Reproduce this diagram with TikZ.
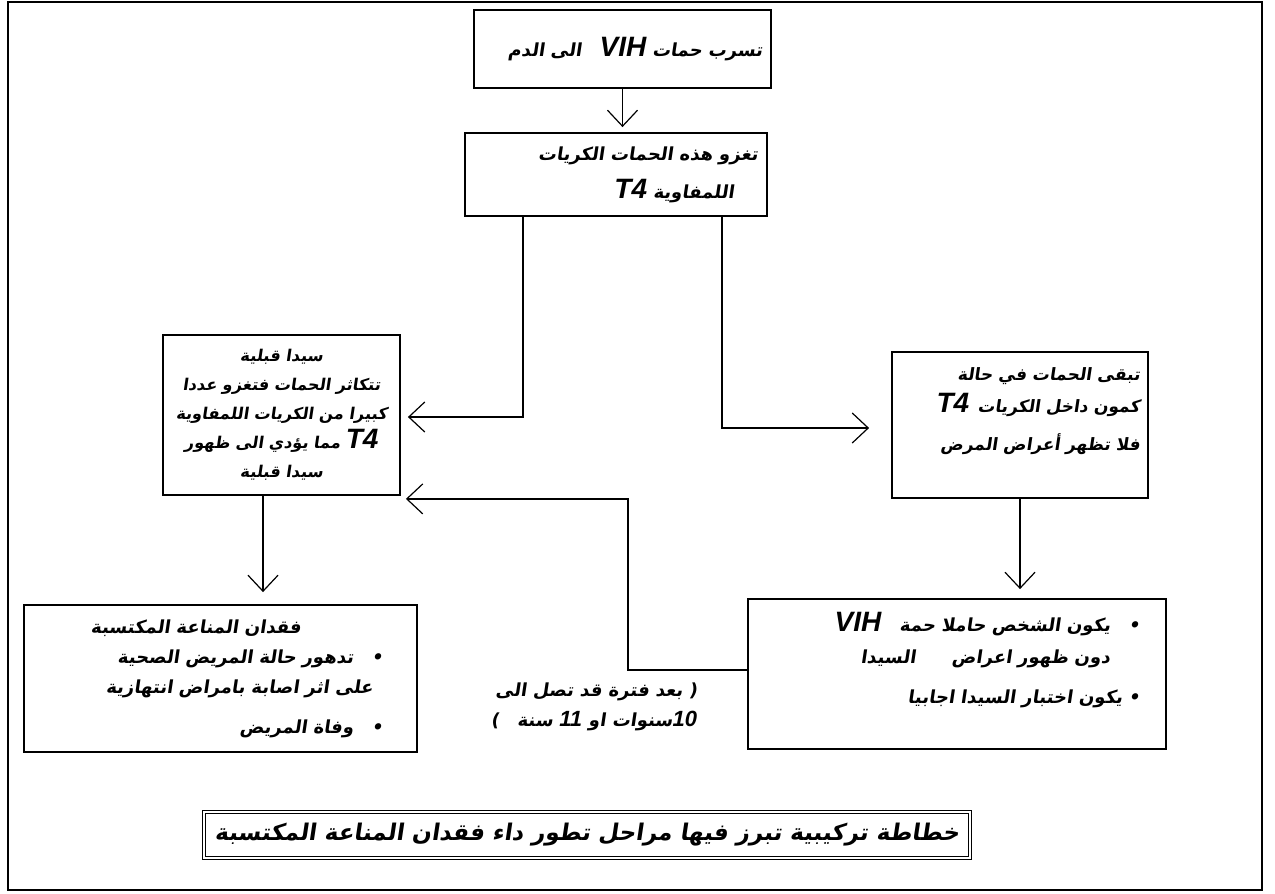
\documentclass[tikz,border=0pt]{standalone}
\usepackage{fontspec}
\usetikzlibrary{arrows.meta, positioning}
\TeXXeTstate=1
\newfontfamily\arabicfont[Script=Arabic, FakeSlant=0.15]{DejaVu Sans}
\newfontfamily\latinfont{Liberation Sans}
\newcommand{\rl}[1]{\beginR #1\endR}
\newcommand{\lat}[1]{\beginL{\latinfont\bfseries\itshape\fontsize{14}{14}\selectfont #1}\endL{}}
\newcommand{\digits}[1]{\beginL{\latinfont\bfseries\itshape\fontsize{11}{11}\selectfont #1}\endL{}}

\tikzset{
  stagebox/.style={draw, line width=0.9pt, inner sep=2pt,
    font=\arabicfont\bfseries\fontsize{9}{15}\selectfont},
  note/.style={font=\arabicfont\bfseries\fontsize{9}{15}\selectfont, align=right},
  arr/.style={-{Straight Barb[length=8pt, width=15pt, line width=0.6pt]}, line width=0.7pt},
}

\begin{document}
\begin{tikzpicture}[x=0.5pt, y=-0.5pt]
  \useasboundingbox (0,0) rectangle (1275,894);
  \draw[line width=0.8pt] (8,2) rectangle (1262,890);

  % stages
  \node[stagebox, minimum width=148.5pt, minimum height=39pt, text width=140pt, align=right]
    (infect) at (622.5,49) {\rl{تسرب حمات \lat{VIH}\quad الى الدم}};
  \node[stagebox, minimum width=151pt, minimum height=41.5pt, text width=142pt, align=right]
    (invade) at (616,174.5) {\rl{تغزو هذه الحمات الكريات}\\[4pt] \rl{\hspace*{12pt}اللمفاوية \lat{T4}}};
  \node[stagebox, minimum width=118.5pt, minimum height=80pt, text width=114pt, align=center,
    inner ysep=1pt, font=\arabicfont\bfseries\fontsize{8.1}{14.5}\selectfont]
    (presida) at (281.5,415) {\rl{سيدا قبلية}\\ \rl{تتكاثر الحمات فتغزو عددا}\\
      \rl{كبيرا من الكريات اللمفاوية}\\ \rl{\lat{T4} مما يؤدي الى ظهور}\\ \rl{سيدا قبلية}};
  \node[stagebox, minimum width=128pt, minimum height=73pt, text width=120pt, align=right,
    font=\arabicfont\bfseries\fontsize{8.5}{16}\selectfont]
    (latent) at (1020,425) {\rl{تبقى الحمات في حالة}\\ \rl{كمون داخل الكريات\enspace\lat{T4}}\\[3pt]
      \rl{فلا تظهر أعراض المرض}\\ \mbox{}};
  \node[stagebox, minimum width=196.5pt, minimum height=73.5pt, text width=162.5pt, align=right]
    (aids) at (220.5,678.5) {\rl{\hspace*{41pt}فقدان المناعة المكتسبة}\\
      \rl{•\quad تدهور حالة المريض الصحية}\\ \rl{\hspace*{5pt}على اثر اصابة بامراض انتهازية}\\[5pt]
      \rl{•\quad وفاة المريض}};
  \node[stagebox, minimum width=209pt, minimum height=75pt, text width=183pt, align=right,
    font=\arabicfont\bfseries\fontsize{9}{16}\selectfont]
    (carrier) at (957,674) {\rl{•\quad يكون الشخص حاملا حمة\quad\lat{VIH}}\\
      \rl{\hspace*{15pt}دون ظهور اعراض\quad\quad السيدا}\\[4pt]
      \rl{• يكون اختبار السيدا اجابيا}\\ \mbox{}};

  \node[note] (delay) at (594,707) {\rl{( بعد فترة قد تصل الى}\\
    \rl{\digits{10}سنوات او \digits{11} سنة\quad)}};

  \node[draw, double, double distance=0.8pt, line width=0.6pt, minimum width=383pt, minimum height=23pt,
    font=\arabicfont\bfseries\fontsize{11.5}{14}\selectfont]
    (title) at (587,835) {\rl{خطاطة تركيبية تبرز فيها مراحل تطور داء فقدان المناعة المكتسبة}};

  % arrows
  \draw[arr, shorten >=2.5pt] (infect.south) -- (infect.south |- invade.north);
  \draw[arr, shorten >=3.5pt] ([xshift=-46.5pt]invade.south) |- ([yshift=-1pt]presida.east);
  \draw[arr, shorten >=11pt] ([xshift=53pt]invade.south) |- ([yshift=-1.5pt]latent.west);
  \draw[arr, shorten >=4.5pt] (latent.south) -- (latent.south |- carrier.north);
  \draw[arr, shorten >=6pt] ([xshift=-9.25pt]presida.south) -- ([xshift=-9.25pt]presida.south |- aids.north);
  \draw[arr, shorten >=2.5pt] ([yshift=2pt]carrier.west) -- ++(-59.5pt,0) |- ([yshift=-1.5pt]presida.south east);
\end{tikzpicture}
\end{document}
